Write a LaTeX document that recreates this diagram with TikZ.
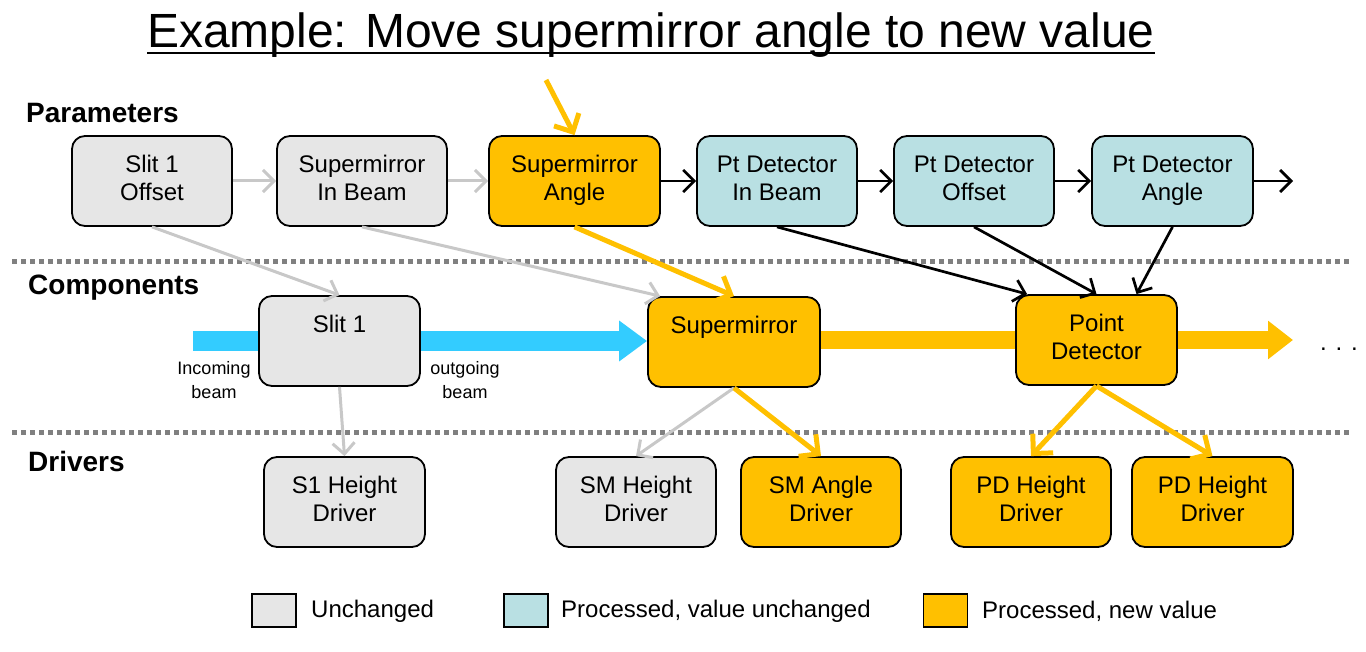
\documentclass[tikz,border=0pt]{standalone}
\usepackage{fontspec}
\setmainfont{Liberation Sans}
\usetikzlibrary{arrows.meta,backgrounds,calc}
\definecolor{ugray}{HTML}{E6E6E6}
\definecolor{pcyan}{HTML}{B9E0E3}
\definecolor{norange}{HTML}{FFC000}
\definecolor{beamcyan}{HTML}{33CCFF}
\definecolor{lgray}{HTML}{C8C8C8}
\definecolor{dotgray}{HTML}{808080}
\newcommand\twol[2]{\begin{tabular}[b]{@{}c@{}}#1\\\strut#2\end{tabular}\rule[-10pt]{0pt}{59.6pt}}
\begin{document}
\begin{tikzpicture}[x=1pt,y=-1pt,
  box/.style={draw=black,line width=1.8pt,rounded corners=13pt,minimum height=90pt,inner sep=0pt,font=\fontsize{24}{28}\selectfont},
  gbox/.style={box,fill=ugray},
  cbox/.style={box,fill=pcyan},
  obox/.style={box,fill=norange},
  section/.style={anchor=west,inner sep=0pt,font=\fontsize{28}{32}\selectfont\bfseries},
  small/.style={inner sep=0pt,align=center,font=\fontsize{18}{24}\selectfont},
  legbox/.style={draw=black,line width=1.8pt,minimum width=44pt,minimum height=33pt,inner sep=0pt},
  legtext/.style={anchor=west,inner sep=0pt,font=\fontsize{24}{28}\selectfont},
  garrow/.style={draw=lgray,line width=3pt,-{Straight Barb[length=11pt,width=22pt]}},
  barrow/.style={draw=black,line width=2.7pt,-{Straight Barb[length=11pt,width=22pt]}},
  oarrow/.style={draw=norange,line width=5pt,-{Straight Barb[length=14pt,width=28pt]}},
  divider/.style={draw=dotgray,line width=5pt,dash pattern=on 5pt off 4pt}
]
\useasboundingbox (0,0) rectangle (1366,652);

% title
\node[anchor=base,inner sep=0pt,font=\fontsize{48}{52}\selectfont] (title) at (651,48) {Example: Move supermirror angle to new value};
\draw[line width=2.5pt] ([yshift=-5pt]title.base west) -- ([yshift=-5pt]title.base east);

% section labels
\node[section] (lpar) at (26,113) {Parameters};
\node[section] (lcomp) at (28,288) {Components};
\node[section] (ldrv) at (28,461) {Drivers};

% dividers
\coordinate (d1a) at (12,262); \coordinate (d1b) at (1352,262);
\coordinate (d2a) at (12,432); \coordinate (d2b) at (1352,432);
\draw[divider] (d1a) -- (d1b);
\draw[divider] (d2a) -- (d2b);

% parameters
\node[gbox,minimum width=160pt] (p1) at (152,181) {\twol{Slit 1}{Offset}};
\node[gbox,minimum width=170pt] (p2) at (362,181) {\twol{Supermirror}{In Beam}};
\node[obox,minimum width=171pt] (p3) at (574.5,181) {\twol{Supermirror}{Angle}};
\node[cbox,minimum width=160pt] (p4) at (777,181) {\twol{Pt Detector}{In Beam}};
\node[cbox,minimum width=160pt] (p5) at (974,181) {\twol{Pt Detector}{Offset}};
\node[cbox,minimum width=161pt] (p6) at (1172.5,181) {\twol{Pt Detector}{Angle}};

% components
\node[gbox,minimum width=161pt] (c1) at (339.5,341) {\twol{Slit 1}{}};
\node[obox,minimum width=172pt] (c2) at (734,342) {\twol{Supermirror}{}};
\node[obox,minimum width=161pt] (c3) at (1096.5,340) {\twol{Point}{Detector}};

% drivers
\node[gbox,minimum width=161pt] (d1) at (344.5,502) {\twol{S1 Height}{Driver}};
\node[gbox,minimum width=160pt] (d2) at (636,502) {\twol{SM Height}{Driver}};
\node[obox,minimum width=160pt] (d3) at (821,502) {\twol{SM Angle}{Driver}};
\node[obox,minimum width=160pt] (d4) at (1031,502) {\twol{PD Height}{Driver}};
\node[obox,minimum width=161pt] (d5) at (1212.5,502) {\twol{PD Height}{Driver}};

% beam labels
\node[small] (inb) at (214,380) {Incoming\\beam};
\node[small] (outb) at (465,380) {outgoing\\beam};
\node[inner sep=0pt,anchor=base,font=\fontsize{24}{28}\selectfont] (dots) at (1339,351) {. . .};

% beams
\coordinate (beamstart) at (193,341);
\coordinate (beamend) at (1293,340);
\begin{pgfonlayer}{background}
\draw[beamcyan,line width=20pt,-{Triangle[length=28pt,width=39pt]}] (beamstart) -- (c2.west |- beamstart);
\draw[norange,line width=18pt] (c2.east |- c3.west) -- (c3.west);
\draw[norange,line width=18pt,-{Triangle[length=25pt,width=37pt]}] (c3.east) -- (beamend);
\end{pgfonlayer}

% parameter chain
\draw[garrow] (p1) -- (p2);
\draw[garrow] (p2) -- (p3);
\draw[barrow] (p3) -- (p4);
\draw[barrow] (p4) -- (p5);
\draw[barrow] (p5) -- (p6);
\coordinate (pend) at (1293,181);
\draw[barrow] (p6) -- (pend);
\coordinate (ostart) at (546,80);
\draw[oarrow] (ostart) -- (p3.north);

% parameters to components
\draw[garrow] (p1.south) -- (c1.north);
\draw[garrow] (p2.south) -- ($(c2.north west)+(13,0)$);
\draw[oarrow] (p3.south) -- (c2.north);
\draw[barrow] (p4.south) -- ($(c3.north west)+(12,0)$);
\draw[barrow] (p5.south) -- (c3.north);
\draw[barrow] (p6.south) -- ($(c3.north)+(40,0)$);

% components to drivers
\draw[garrow] (c1.south) -- (d1.north);
\draw[garrow] (c2.south) -- (d2.north);
\draw[oarrow] (c2.south) -- (d3.north);
\draw[oarrow] (c3.south) -- (d4.north);
\draw[oarrow] (c3.south) -- (d5.north);

% legend
\node[legbox,fill=ugray] (lg1) at (274,610.5) {};
\node[legtext] (lt1) at (311,611) {Unchanged};
\node[legbox,fill=pcyan] (lg2) at (526,610.5) {};
\node[legtext] (lt2) at (561,611) {Processed, value unchanged};
\node[legbox,fill=norange] (lg3) at (945.5,610.5) {};
\node[legtext] (lt3) at (982,611) {Processed, new value};
\end{tikzpicture}
\end{document}
